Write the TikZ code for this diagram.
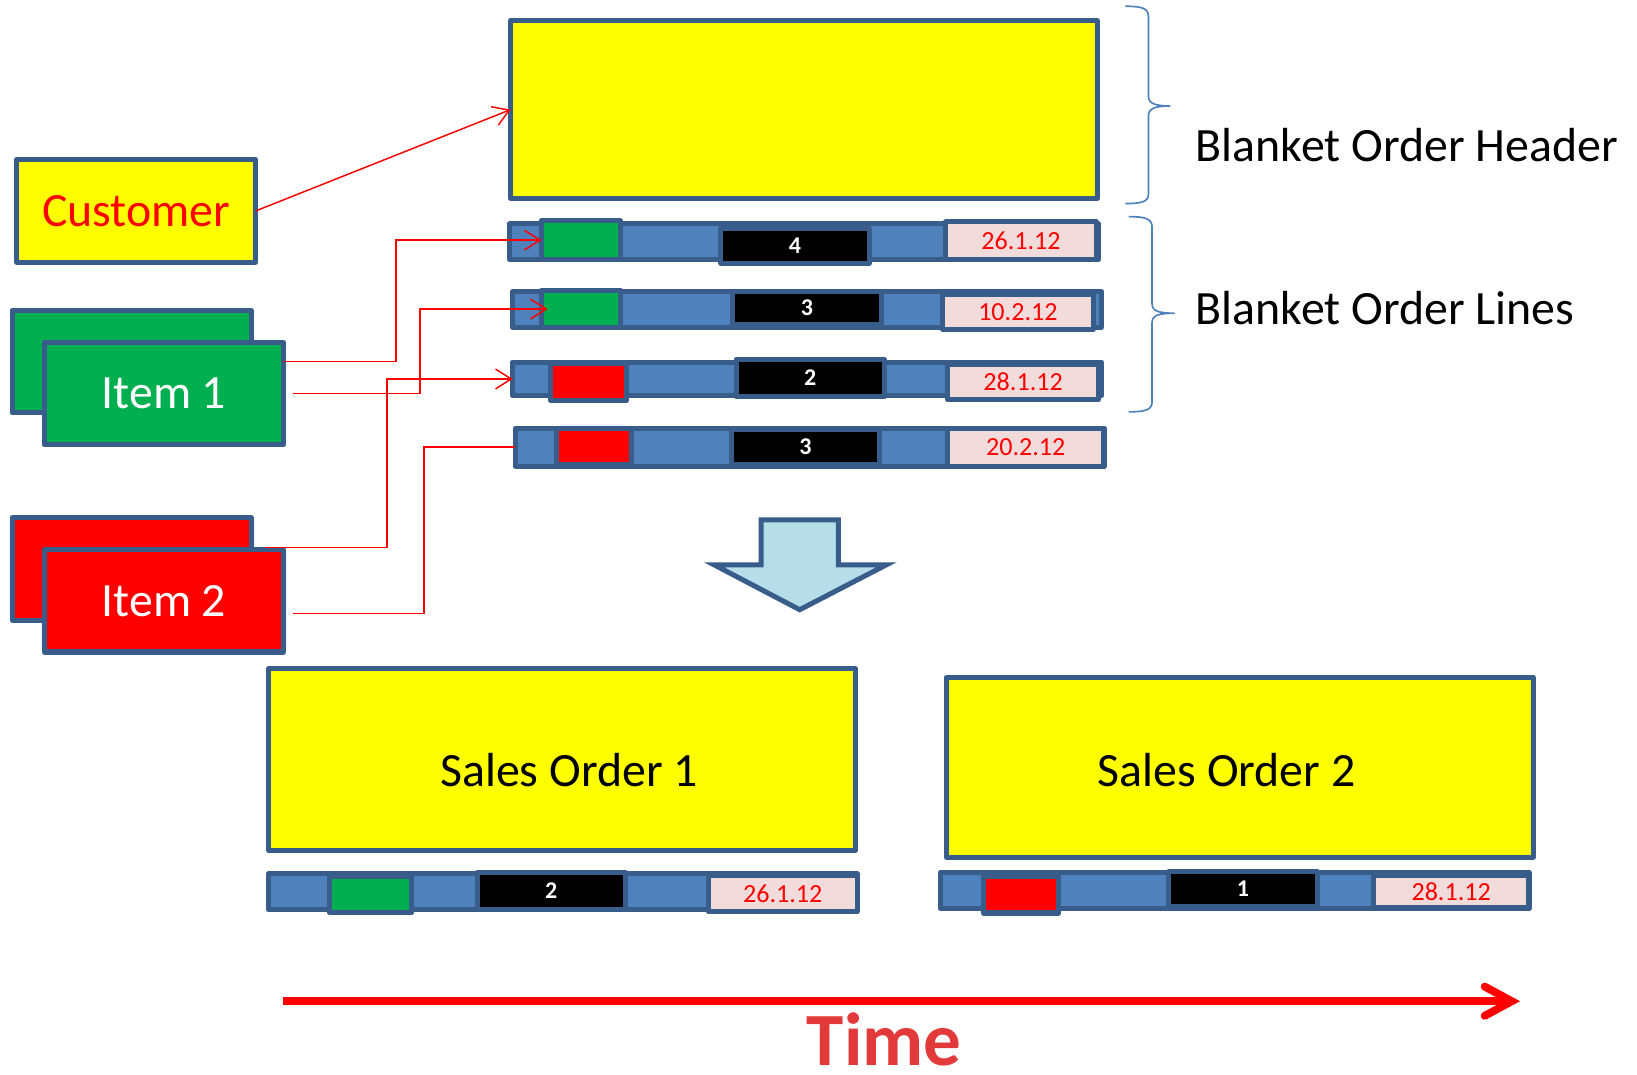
\documentclass[tikz,border=0pt]{standalone}
\usepackage{fontspec}
\setmainfont{Carlito}
\usepackage{xcolor}
\usepackage{tikz}
\usetikzlibrary{arrows.meta,calc}

\definecolor{ppblue}{HTML}{4F81BD}
\definecolor{ppdark}{HTML}{385D8A}
\definecolor{ppgreen}{HTML}{00B050}
\definecolor{ppred}{HTML}{FF0000}
\definecolor{ppyellow}{HTML}{FFFF00}
\definecolor{pppink}{HTML}{F2DCDB}
\definecolor{ppcyan}{HTML}{B7DEE8}
\definecolor{timered}{HTML}{E23A3A}

\newcommand{\lblfont}{\fontsize{45.8}{55}\selectfont}

\tikzset{
  obox/.style={draw=ppdark, line width=4.8pt, line join=round, inner sep=0pt, outer sep=0pt,
    minimum width=229pt, minimum height=98pt, font=\lblfont},
  linebar/.style={draw=ppdark, fill=ppblue, line width=4.8pt, line join=round, inner sep=0pt,
    outer sep=0pt, minimum width=564pt, minimum height=34pt},
  part/.style={draw=ppdark, line width=4.8pt, line join=round, inner sep=0pt, outer sep=0pt,
    minimum width=75pt, minimum height=35pt},
  qtycell/.style={part, fill=black, text=white, minimum width=142pt, minimum height=33pt,
    font=\fontsize{23}{26}\selectfont\bfseries},
  datecell/.style={part, fill=pppink, text=ppred, minimum width=144pt, minimum height=34pt,
    font=\fontsize{25}{28}\selectfont},
  link/.style={draw=ppred, line width=1.4pt, -{Straight Barb[length=15pt,width=19pt]}},
  brc/.style={draw=ppblue, line width=1.6pt},
}

\begin{document}
\begin{tikzpicture}[x=1pt,y=-1pt]
    \fill[white] (0,0) rectangle (1568,1029);
    \useasboundingbox (0,0) rectangle (1568,1029);

    % Blanket order header
    \node[obox, fill=ppyellow, minimum width=562pt, minimum height=170pt] (hdr) at (770,105) {};
    \draw[brc] (1078,6) .. controls (1094,6) and (1100,8) .. (1100,16) -- (1100,92)
        .. controls (1100,99) and (1106,101.5) .. (1121,101.5)
        .. controls (1106,101.5) and (1100,104) .. (1100,111) -- (1100,186)
        .. controls (1100,193) and (1094,195) .. (1078,195);
    \node[anchor=base west, font=\lblfont] (hdrlbl) at (1142,155) {Blanket Order Header};

    % Customer and items
    \node[obox, fill=ppyellow, text=ppred] (cust) at (130.5,202) {Customer};
    \node[obox, fill=ppgreen] (itmaback) at (126,346.5) {};
    \node[obox, fill=ppgreen, text=white] (itma) at (157,377) {Item 1};
    \node[obox, fill=ppred] (itmbback) at (126,545) {};
    \node[obox, fill=ppred, text=white] (itmb) at (157,575.5) {Item 2};

    % Blanket order lines
    \node[linebar] (la) at (770,231.5) {};
    \node[part, fill=ppgreen, minimum width=76pt, minimum height=37pt] (ga) at (556.5,230) {};
    \node[qtycell] (qa) at (761.5,235.5) {4};
    \node[datecell, minimum height=36pt] (da) at (978,230.5) {26.1.12};

    \node[linebar] (lb) at (773,296.5) {};
    \node[part, fill=ppgreen, minimum width=76pt, minimum height=36pt] (gb) at (556.5,296) {};
    \node[qtycell, minimum height=32pt] (qb) at (773,295) {3};
    \node[datecell, minimum height=33pt] (db) at (975,299) {10.2.12};

    \node[linebar, minimum height=32.5pt] (lc) at (773,363) {};
    \node[part, fill=ppred, minimum width=73pt] (rc) at (564,366) {};
    \node[qtycell, minimum height=36pt] (qc) at (776,362) {2};
    \node[datecell] (dc) at (980,366) {28.1.12};

    \node[linebar, minimum height=36.5pt] (ld) at (775.5,428.3) {};
    \node[part, fill=ppred, minimum width=72.5pt] (rd) at (569,427.5) {};
    \node[qtycell, minimum height=34pt] (qd) at (771.5,428) {3};
    \node[datecell, minimum width=149pt, minimum height=36pt] (dd) at (982.5,428.5) {20.2.12};

    \draw[brc] (1081,207.5) .. controls (1097,207.5) and (1103.5,209.5) .. (1103.5,217.5) -- (1103.5,291)
        .. controls (1103.5,298) and (1110,300) .. (1125,300)
        .. controls (1110,300) and (1103.5,302) .. (1103.5,309) -- (1103.5,385)
        .. controls (1103.5,392.5) and (1097,394.5) .. (1081,394.5);
    \node[anchor=base west, font=\lblfont] (lnslbl) at (1142,311) {Blanket Order Lines};

    % Links
    \draw[link] (cust.east) -- (hdr.west);
    \draw[link] ([yshift=-18.5pt]itma.north east) -- ++(108,0) |- (ga.west);
    \draw[link] ([xshift=9pt]itma.east) -- ++(122,0) |- ([xshift=6pt]gb.west);
    \draw[link] ([xshift=-17.5pt,yshift=2pt]itmb.north east) -- ++(116.5,0) |- (lc.west);
    \draw[link,-] ([xshift=9pt,yshift=-12pt]itmb.east) -- ++(125.5,0) |- (ld.west);

    % Release arrow
    \draw[draw=ppdark, fill=ppcyan, line width=4.8pt] (729,498) -- (803,498) -- (803,541)
        -- (849,541) -- (766,584) -- (684,541) -- (729,541) -- cycle;

    % Sales order 1
    \node[obox, fill=ppyellow, minimum width=562pt, minimum height=174pt] (soa) at (538.5,727.5) {};
    \node[font=\lblfont] (soalbl) at (545,738) {Sales Order 1};
    \node[linebar, minimum height=34.5pt] (sla) at (539,854) {};
    \node[part, fill=ppgreen, minimum width=79pt, minimum height=34.5pt] (sga) at (355,857) {};
    \node[qtycell, minimum height=36pt] (sqa) at (528,853.3) {2};
    \node[datecell, minimum width=143pt] (sda) at (749.7,856) {26.1.12};

    % Sales order 2
    \node[obox, fill=ppyellow, minimum width=562pt, minimum height=172pt] (sob) at (1187.5,735) {};
    \node[font=\lblfont] (soblbl) at (1175,738) {Sales Order 2};
    \node[linebar] (slb) at (1182.6,853) {};
    \node[part, fill=ppred, minimum width=72pt] (srb) at (978.2,857) {};
    \node[qtycell, minimum height=33pt] (sqb) at (1190.5,851.7) {1};
    \node[datecell, minimum width=149pt, minimum height=31pt] (sdb) at (1390,854) {28.1.12};

    % Time
    \coordinate (tstart) at (271,959);
    \coordinate (tend) at (1456,959);
    \draw[ppred, line width=7.5pt, -{Straight Barb[length=26pt,width=28pt,line cap=round]}] (tstart) -- (tend);
    \node[text=timered, inner sep=0pt, font=\fontsize{72}{78}\selectfont\bfseries] (tlbl) at (847,996) {Time};
\end{tikzpicture}
\end{document}
